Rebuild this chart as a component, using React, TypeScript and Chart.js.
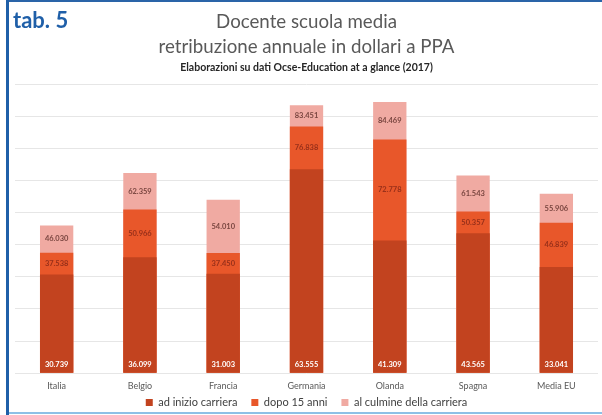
import { useEffect, useRef } from 'react';
import { Chart, registerables } from 'chart.js';

Chart.register(...registerables);

const categories = ['Italia', 'Belgio', 'Francia', 'Germania', 'Olanda', 'Spagna', 'Media EU'];
const seriesLabels = ['ad inizio carriera', 'dopo 15 anni', 'al culmine della carriera'];
const inizioCarriera = [30739, 36099, 31003, 63555, 41309, 43565, 33041];
const dopo15Anni = [37538, 50966, 37450, 76838, 72778, 50357, 46839];
const culmineCarriera = [46030, 62359, 54010, 83451, 84469, 61543, 55906];
const yMin = 0;
const yMax = 90000;
const yStep = 10000;

const titleLines = ['Docente scuola media', 'retribuzione annuale in dollari a PPA'];
const subtitleText = 'Elaborazioni su dati Ocse-Education at a glance (2017)';
const tabLabel = 'tab. 5';

const colors = ['#C2431F', '#E8572A', '#F0AAA2'];

function fmt(v: number): string {
  return String(v).replace(/\B(?=(\d{3})+(?!\d))/g, '.');
}

const segLabels = {
  id: 'segLabels',
  afterDatasetsDraw(chart: any) {
    const ctx = chart.ctx;
    const m0 = chart.getDatasetMeta(0);
    const m1 = chart.getDatasetMeta(1);
    const m2 = chart.getDatasetMeta(2);
    ctx.save();
    ctx.font = 'bold 7.5px Lato';
    ctx.textAlign = 'center';
    ctx.textBaseline = 'middle';
    categories.forEach((_, i) => {
      const b0 = m0.data[i];
      const b1 = m1.data[i];
      const b2 = m2.data[i];
      ctx.fillStyle = '#ffffff';
      ctx.fillText(fmt(inizioCarriera[i]), b0.x, b0.base - 8);
      ctx.fillStyle = '#98301A';
      ctx.fillText(fmt(dopo15Anni[i]), b1.x, (b1.y + b0.y) / 2);
      ctx.fillStyle = '#7A4640';
      ctx.fillText(fmt(culmineCarriera[i]), b2.x, (b2.y + b1.y) / 2);
    });
    ctx.restore();
  },
};

// pulls the legend row a little closer to the axis labels
const legendLift = {
  id: 'legendLift',
  afterLayout(chart: any) {
    const lg = chart.legend;
    if (lg) {
      lg.top -= 15;
      lg.bottom -= 15;
    }
  },
};

export default function App() {
  const ref = useRef<HTMLCanvasElement>(null);

  useEffect(() => {
    const chart = new Chart(ref.current as HTMLCanvasElement, {
      type: 'bar',
      data: {
        labels: categories,
        datasets: [
          { label: seriesLabels[0], data: inizioCarriera, backgroundColor: colors[0] },
          { label: seriesLabels[1], data: dopo15Anni, backgroundColor: colors[1] },
          { label: seriesLabels[2], data: culmineCarriera, backgroundColor: colors[2] },
        ],
      },
      options: {
        responsive: false,
        animation: false,
        datasets: { bar: { categoryPercentage: 0.8, barPercentage: 0.5 } },
        layout: { padding: { left: 15, right: 4, top: 0, bottom: -18 } },
        scales: {
          x: {
            stacked: true,
            grid: { display: false, drawTicks: false },
            border: { display: false },
            ticks: { color: '#595959', font: { family: 'Lato', size: 9 }, padding: 7 },
          },
          y: {
            stacked: false,
            min: yMin,
            max: yMax,
            ticks: { display: false, stepSize: yStep },
            grid: { color: '#E6E6E6', drawTicks: false },
            border: { display: false },
          },
        },
        plugins: {
          tooltip: { enabled: false },
          title: {
            display: true,
            text: titleLines,
            color: '#595959',
            font: { family: 'Lato', size: 18.7, weight: 'normal', lineHeight: 1.34 },
            padding: { top: 9, bottom: 2 },
          },
          subtitle: {
            display: true,
            text: subtitleText,
            color: '#262626',
            font: { family: 'Lato', size: 10.5, weight: 'bold', lineHeight: 1.2 },
            padding: { top: 0, bottom: 10.5 },
          },
          legend: {
            position: 'bottom',
            labels: {
              color: '#404040',
              font: { family: 'Lato', size: 11 },
              boxWidth: 7,
              boxHeight: 7,
              padding: 14,
            },
          },
        },
      },
      plugins: [segLabels, legendLift],
    });
    return () => chart.destroy();
  }, []);

  return (
    <div style={{ position: 'fixed', left: 0, top: 0, width: 602, height: 415, background: '#ffffff', overflow: 'hidden' }}>
      <canvas ref={ref} width={602} height={415} style={{ position: 'absolute', left: 0, top: 0, width: 602, height: 415 }} />
      <div style={{ position: 'absolute', left: 6, top: 0, width: 596, height: 2, background: '#2A64A8' }} />
      <div style={{ position: 'absolute', left: 6, top: 0, width: 3, height: 415, background: '#1F5FA8' }} />
      <div style={{ position: 'absolute', left: 9, top: 412, width: 593, height: 2, background: '#8DC0E6' }} />
      <div style={{ position: 'absolute', left: 13, top: 8, font: 'bold 22px Lato', lineHeight: '24px', color: '#1F5FA8' }}>{tabLabel}</div>
    </div>
  );
}
